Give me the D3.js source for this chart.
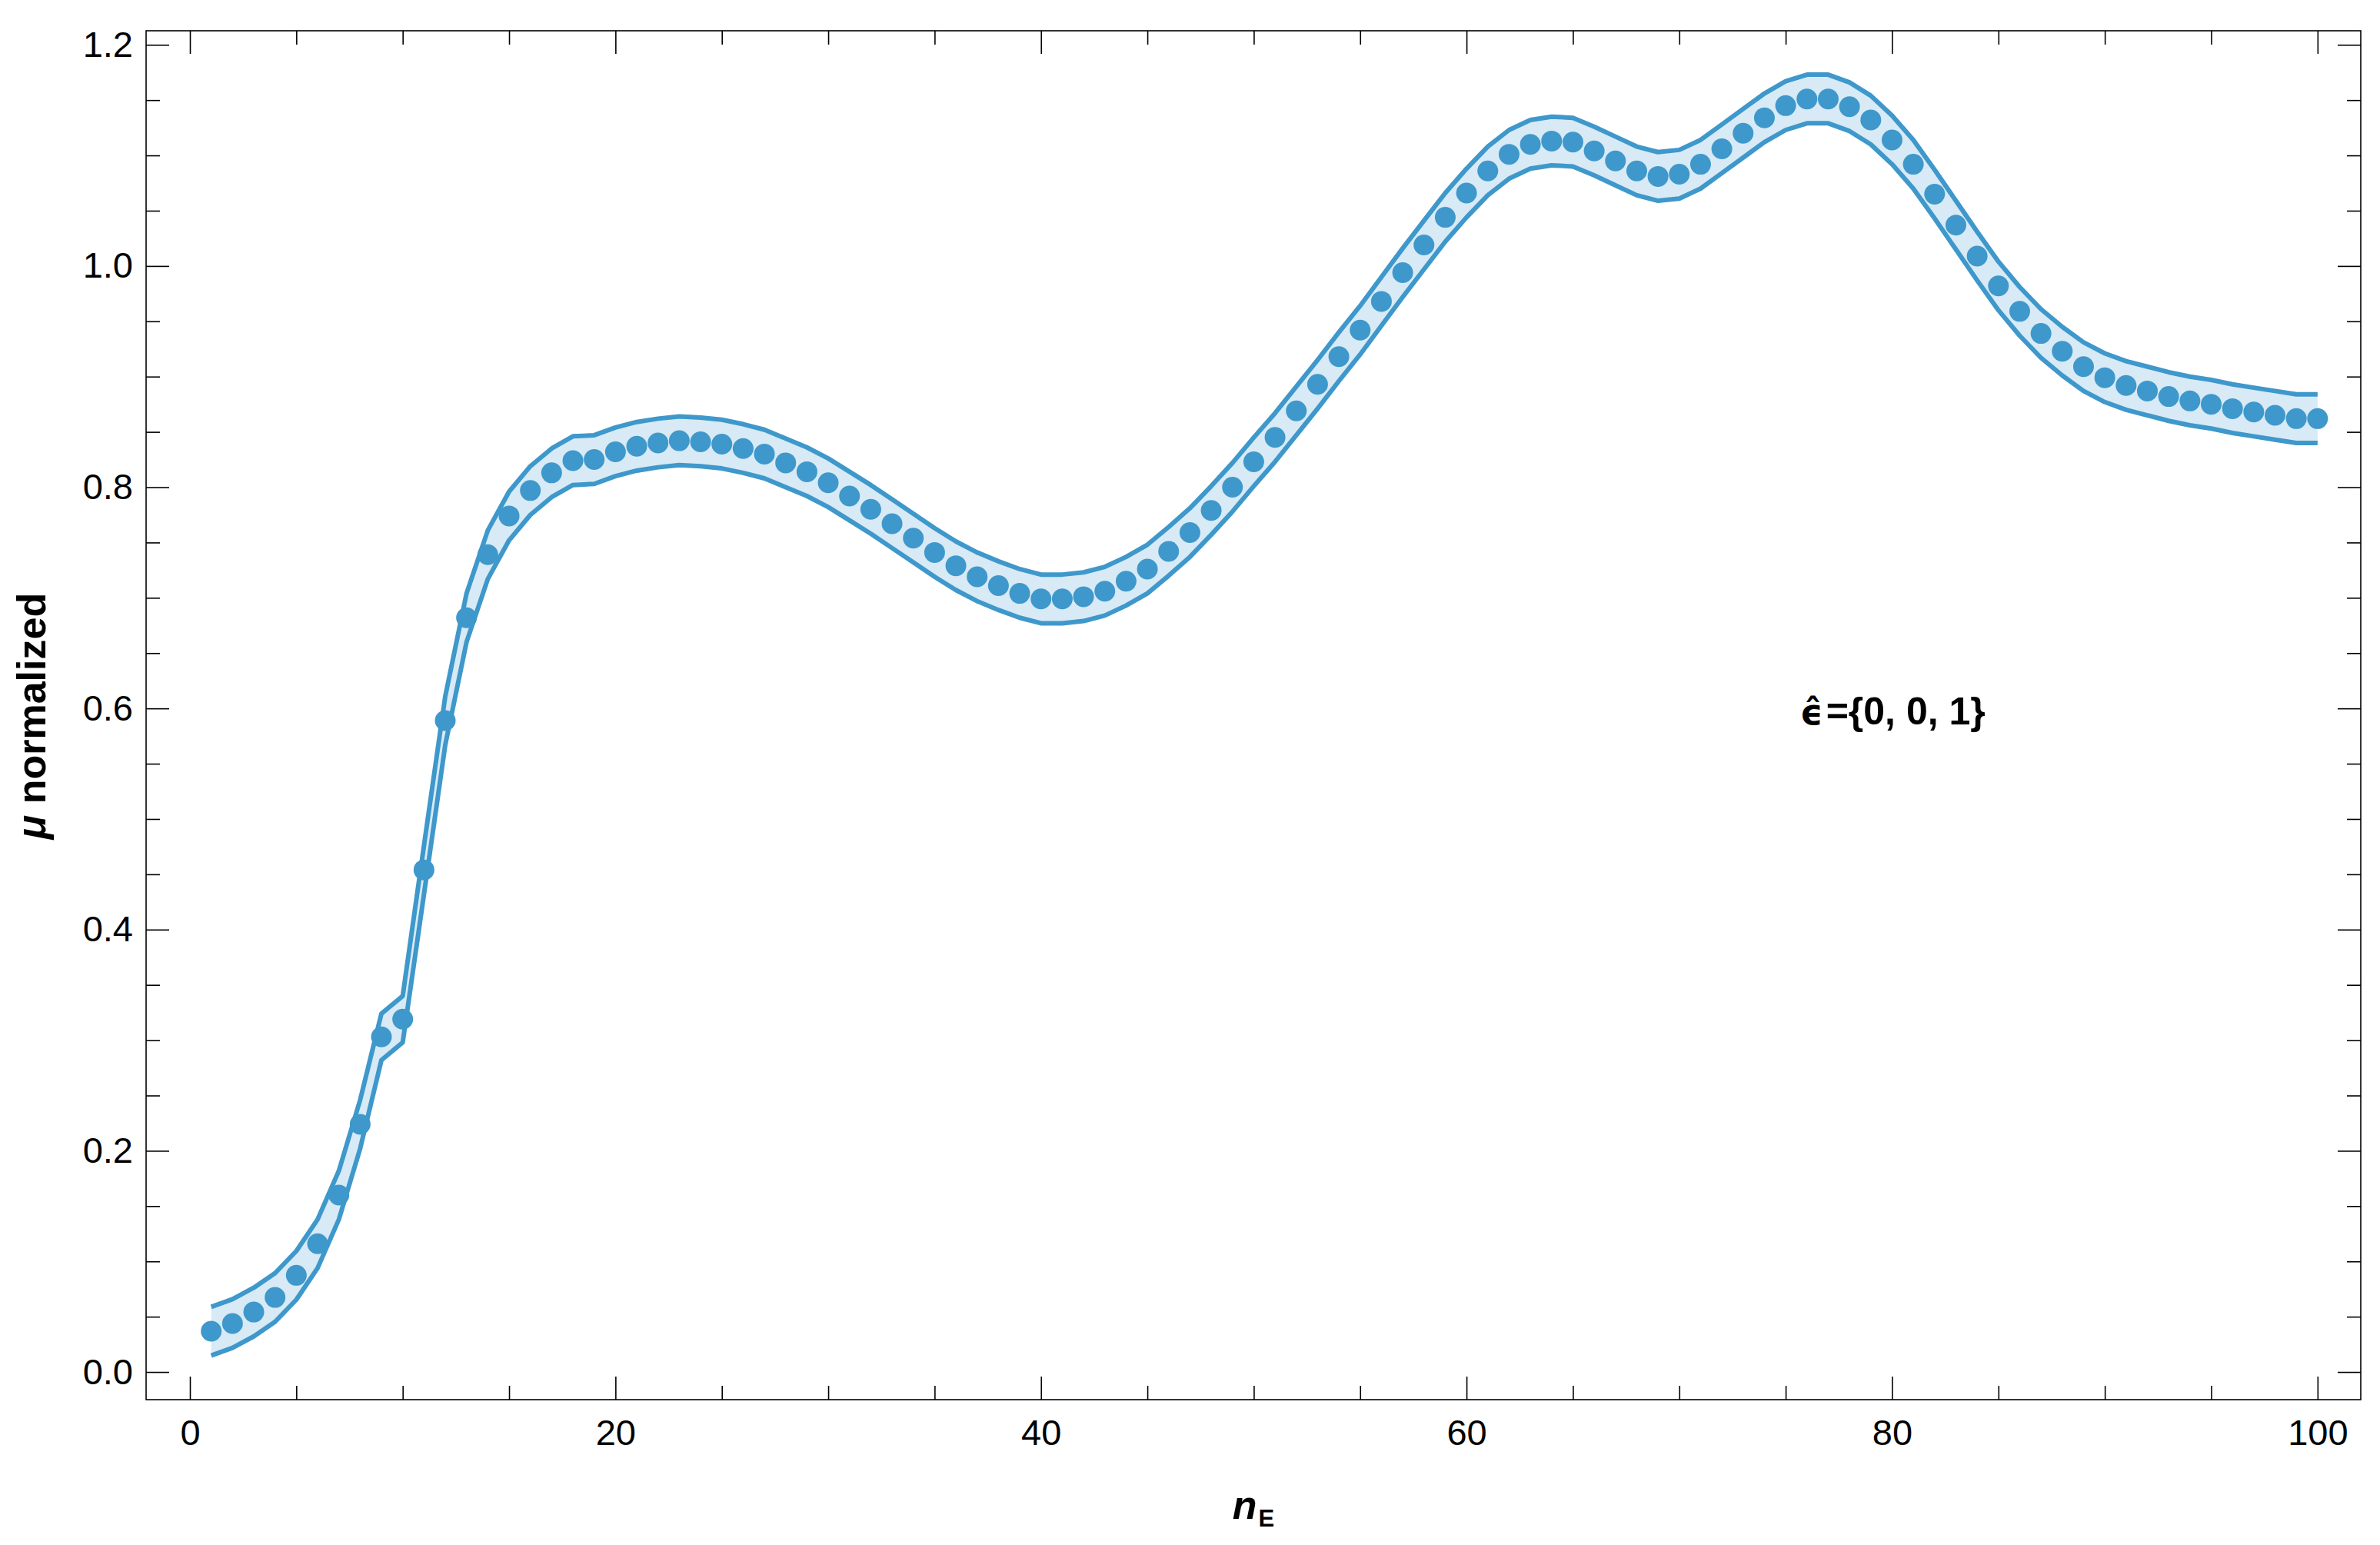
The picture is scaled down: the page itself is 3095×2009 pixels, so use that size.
<!DOCTYPE html>
<html>
<head>
<meta charset="utf-8">
<script src="https://cdn.jsdelivr.net/npm/d3@7"></script>
<style>
  html, body { margin: 0; padding: 0; background: #fff; }
  svg { display: block; }
  text { font-family: "Liberation Sans", Arial, sans-serif; }
</style>
</head>
<body>
<svg id="chart" width="3095" height="2009"></svg>
<script>
// ---- data ----
const nE = [1,2,3,4,5,6,7,8,9,10,11,12,13,14,15,16,17,18,19,20,
  21,22,23,24,25,26,27,28,29,30,31,32,33,34,35,36,37,38,39,40,
  41,42,43,44,45,46,47,48,49,50,51,52,53,54,55,56,57,58,59,60,
  61,62,63,64,65,66,67,68,69,70,71,72,73,74,75,76,77,78,79,80,
  81,82,83,84,85,86,87,88,89,90,91,92,93,94,95,96,97,98,99,100];

const muNormalized = [
  0.0369, 0.0438, 0.0542, 0.0674, 0.0874, 0.116, 0.160, 0.224, 0.303, 0.319,
  0.454, 0.589, 0.682, 0.739, 0.774, 0.797, 0.813, 0.824, 0.825, 0.832,
  0.837, 0.840, 0.842, 0.841, 0.839, 0.835, 0.830, 0.822, 0.814, 0.804,
  0.792, 0.780, 0.767, 0.754, 0.741, 0.729, 0.719, 0.711, 0.704, 0.699,
  0.699, 0.701, 0.706, 0.715, 0.726, 0.742, 0.759, 0.779, 0.800, 0.823,
  0.845, 0.869, 0.893, 0.918, 0.942, 0.968, 0.994, 1.019, 1.044, 1.066,
  1.086, 1.101, 1.110, 1.113, 1.112, 1.104, 1.095, 1.086, 1.081, 1.083,
  1.092, 1.106, 1.120, 1.134, 1.145, 1.151, 1.151, 1.144, 1.132, 1.114,
  1.092, 1.065, 1.037, 1.009, 0.982, 0.959, 0.939, 0.923, 0.909, 0.899,
  0.892, 0.887, 0.882, 0.878, 0.875, 0.871, 0.868, 0.865, 0.862, 0.862
];

// half-width of the uncertainty band at each point
const bandErr = [
  0.022,0.022,0.022,0.022,0.022,0.022,0.022,0.022,0.021,0.021,
  0.022,0.022,0.022,0.022,0.022,0.022,0.022,0.022,0.022,0.022,
  0.022,0.022,0.022,0.022,0.022,0.022,0.022,0.022,0.022,0.022,
  0.022,0.022,0.022,0.022,0.022,0.022,0.022,0.022,0.022,0.022,
  0.022,0.022,0.022,0.022,0.022,0.022,0.022,0.022,0.022,0.022,
  0.022,0.022,0.022,0.022,0.022,0.022,0.022,0.022,0.022,0.022,
  0.022,0.022,0.022,0.022,0.022,0.022,0.022,0.022,0.022,0.022,
  0.022,0.022,0.022,0.022,0.022,0.022,0.022,0.022,0.022,0.022,
  0.022,0.022,0.022,0.022,0.022,0.022,0.022,0.022,0.022,0.022,
  0.022,0.022,0.022,0.022,0.022,0.022,0.022,0.022,0.022,0.022
];

const xMajorTicks = [0, 20, 40, 60, 80, 100];
const xMinorTicks = [5,10,15,25,30,35,45,50,55,65,70,75,85,90,95];
const yMajorTicks = [0.0, 0.2, 0.4, 0.6, 0.8, 1.0, 1.2];
const yMinorTicks = [0.05,0.1,0.15,0.25,0.3,0.35,0.45,0.5,0.55,0.65,0.7,0.75,0.85,0.9,0.95,1.05,1.1,1.15];

const xLabel = "n";
const xLabelSub = "E";
const yLabelSymbol = "μ";
const yLabelText = " normalized";
const annotationSymbol = "\u03F5\u0302";
const annotation = "={0, 0, 1}";

// ---- layout ----
const frame = {left: 190, top: 40, right: 3070, bottom: 1820};
const blue = "#3e98cb";
const bandFill = "#d8eaf5";

const svg = d3.select("#chart");
svg.append("rect").attr("width", 3095).attr("height", 2009).attr("fill", "#fff");

const x = d3.scaleLinear().domain([-2.06, 102.03]).range([frame.left, frame.right]);
const y = d3.scaleLinear().domain([-0.025, 1.2127]).range([frame.bottom, frame.top]);

const pts = nE.map((n, i) => ({n, v: muNormalized[i], e: bandErr[i]}));

// band fill
svg.append("path")
  .datum(pts)
  .attr("fill", bandFill)
  .attr("d", d3.area().x(d => x(d.n)).y0(d => y(d.v - d.e)).y1(d => y(d.v + d.e)));

// band edge lines
const upper = d3.line().x(d => x(d.n)).y(d => y(d.v + d.e));
const lower = d3.line().x(d => x(d.n)).y(d => y(d.v - d.e));
[upper, lower].forEach(gen => {
  svg.append("path").datum(pts)
    .attr("fill", "none").attr("stroke", blue).attr("stroke-width", 6)
    .attr("stroke-linejoin", "round")
    .attr("d", gen);
});

// points
svg.append("g").selectAll("circle").data(pts).join("circle")
  .attr("cx", d => x(d.n)).attr("cy", d => y(d.v)).attr("r", 13.5)
  .attr("fill", blue);

// ---- frame and ticks ----
const fontSize = 47;
function styleAxis(g) {
  g.select(".domain").remove();
  g.selectAll(".tick line").attr("stroke", "#000").attr("stroke-width", 1.6);
  g.selectAll(".tick text").attr("fill", "#000").style("font-size", fontSize + "px")
    .style("font-family", '"Liberation Sans", Arial, sans-serif');
}

// bottom
svg.append("g").attr("transform", `translate(0,${frame.bottom})`)
  .call(d3.axisBottom(x).tickValues(xMajorTicks).tickSize(-30).tickPadding(26).tickFormat(d3.format("d")))
  .call(styleAxis);
svg.append("g").attr("transform", `translate(0,${frame.bottom})`)
  .call(d3.axisBottom(x).tickValues(xMinorTicks).tickSize(-18).tickFormat(""))
  .call(styleAxis);
// top
svg.append("g").attr("transform", `translate(0,${frame.top})`)
  .call(d3.axisTop(x).tickValues(xMajorTicks).tickSize(-30).tickFormat(""))
  .call(styleAxis);
svg.append("g").attr("transform", `translate(0,${frame.top})`)
  .call(d3.axisTop(x).tickValues(xMinorTicks).tickSize(-18).tickFormat(""))
  .call(styleAxis);
// left
svg.append("g").attr("transform", `translate(${frame.left},0)`)
  .call(d3.axisLeft(y).tickValues(yMajorTicks).tickSize(-30).tickPadding(17).tickFormat(d3.format(".1f")))
  .call(styleAxis);
svg.append("g").attr("transform", `translate(${frame.left},0)`)
  .call(d3.axisLeft(y).tickValues(yMinorTicks).tickSize(-18).tickFormat(""))
  .call(styleAxis);
// right
svg.append("g").attr("transform", `translate(${frame.right},0)`)
  .call(d3.axisRight(y).tickValues(yMajorTicks).tickSize(-30).tickFormat(""))
  .call(styleAxis);
svg.append("g").attr("transform", `translate(${frame.right},0)`)
  .call(d3.axisRight(y).tickValues(yMinorTicks).tickSize(-18).tickFormat(""))
  .call(styleAxis);

svg.append("rect")
  .attr("x", frame.left).attr("y", frame.top)
  .attr("width", frame.right - frame.left).attr("height", frame.bottom - frame.top)
  .attr("fill", "none").attr("stroke", "#000").attr("stroke-width", 1.6);

// ---- axis labels ----
const xl = svg.append("text")
  .attr("x", 1630).attr("y", 1975)
  .attr("text-anchor", "middle")
  .style("font-weight", "bold").style("font-size", "52px");
xl.append("tspan").style("font-style", "italic").text(xLabel);
xl.append("tspan").attr("dx", 2).attr("dy", 10).style("font-size", "31px").text(xLabelSub);

const yl = svg.append("text")
  .attr("transform", "translate(59,931) rotate(-90)")
  .attr("text-anchor", "middle")
  .style("font-weight", "bold").style("font-size", "52px");
yl.append("tspan").style("font-style", "italic").text(yLabelSymbol);
yl.append("tspan").text(yLabelText);

// ---- annotation ----
const ann = svg.append("text")
  .attr("x", 2341).attr("y", 942)
  .style("font-weight", "bold");
ann.append("tspan").style("font-family", '"DejaVu Sans", sans-serif').style("font-size", "46px")
  .text(annotationSymbol);
ann.append("tspan").attr("dx", 4).style("font-size", "50px").text(annotation);
</script>
</body>
</html>
